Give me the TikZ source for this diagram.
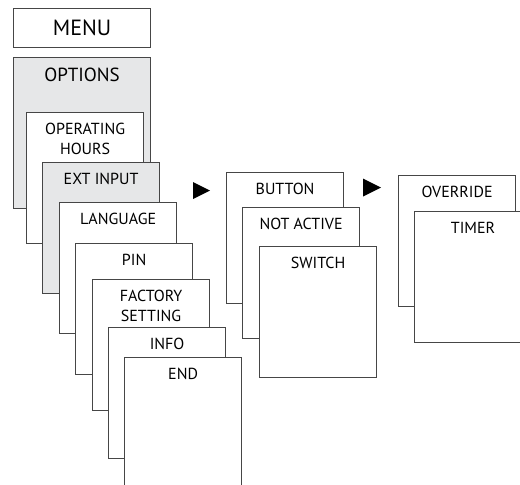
\documentclass[tikz,border=0pt]{standalone}
\usepackage{fontspec}
\setmainfont{PT Sans}
\usepackage{tikz}
\definecolor{panelgray}{RGB}{230, 231, 232}
\definecolor{edgegray}{RGB}{70, 70, 70}

\begin{document}
\begin{tikzpicture}[x=1pt, y=-1pt,
    screen/.style={draw=edgegray, line width=1.2pt, fill=white, inner sep=0pt,
        minimum width=117pt, minimum height=131pt, anchor=north west},
    shaded/.style={screen, fill=panelgray},
    caption/.style={anchor=north, inner sep=0pt, yshift=-10.5pt, align=center,
        font=\fontsize{16}{20}\selectfont}]
    \useasboundingbox (0,0) rectangle (520,485);
    \clip (0,0) rectangle (520,485);

    % main menu column
    \node[screen, minimum width=137pt, minimum height=39pt, anchor=north west,
        font=\fontsize{22}{26}\selectfont] (menu) at (13,8) {MENU};
    \node[shaded, minimum width=137pt, minimum height=151pt] (options) at (13,57) {};
    \node[caption, font=\fontsize{19}{23}\selectfont] (optionstxt) at (options.north) {OPTIONS};
    \node[screen] (hours) at (26,112) {};
    \node[caption] (hourstxt) at (hours.north) {OPERATING\\HOURS};
    \node[shaded] (extin) at (42,162) {};
    \node[caption] (extintxt) at (extin.north) {EXT INPUT};
    \node[screen] (lang) at (59,202) {};
    \node[caption] (langtxt) at (lang.north) {LANGUAGE};
    \node[screen] (pin) at (75,243) {};
    \node[caption] (pintxt) at (pin.north) {PIN};
    \node[screen] (factory) at (92,279) {};
    \node[caption] (factorytxt) at (factory.north) {FACTORY\\SETTING};
    \node[screen] (info) at (108,327) {};
    \node[caption] (infotxt) at (info.north) {INFO};
    \node[screen] (end) at (124,357) {};
    \node[caption] (endtxt) at (end.north) {END};

    % ext input choices
    \coordinate (tipA) at (210,190.5);
    \fill (tipA) -- ++(-17,-8.5) -- ++(0,17) -- cycle;
    \node[screen] (button) at (226,172) {};
    \node[caption] (buttontxt) at (button.north) {BUTTON};
    \node[screen] (notact) at (242,207) {};
    \node[caption] (notacttxt) at (notact.north) {NOT ACTIVE};
    \node[screen] (switch) at (259,246) {};
    \node[caption] (switchtxt) at (switch.north) {SWITCH};

    % button choices
    \coordinate (tipB) at (381,187.5);
    \fill (tipB) -- ++(-18,-9) -- ++(0,18) -- cycle;
    \node[screen] (override) at (398,175) {};
    \node[caption] (overridetxt) at (override.north) {OVERRIDE};
    \node[screen] (timer) at (414,211) {};
    \node[caption] (timertxt) at (timer.north) {TIMER};
\end{tikzpicture}
\end{document}
